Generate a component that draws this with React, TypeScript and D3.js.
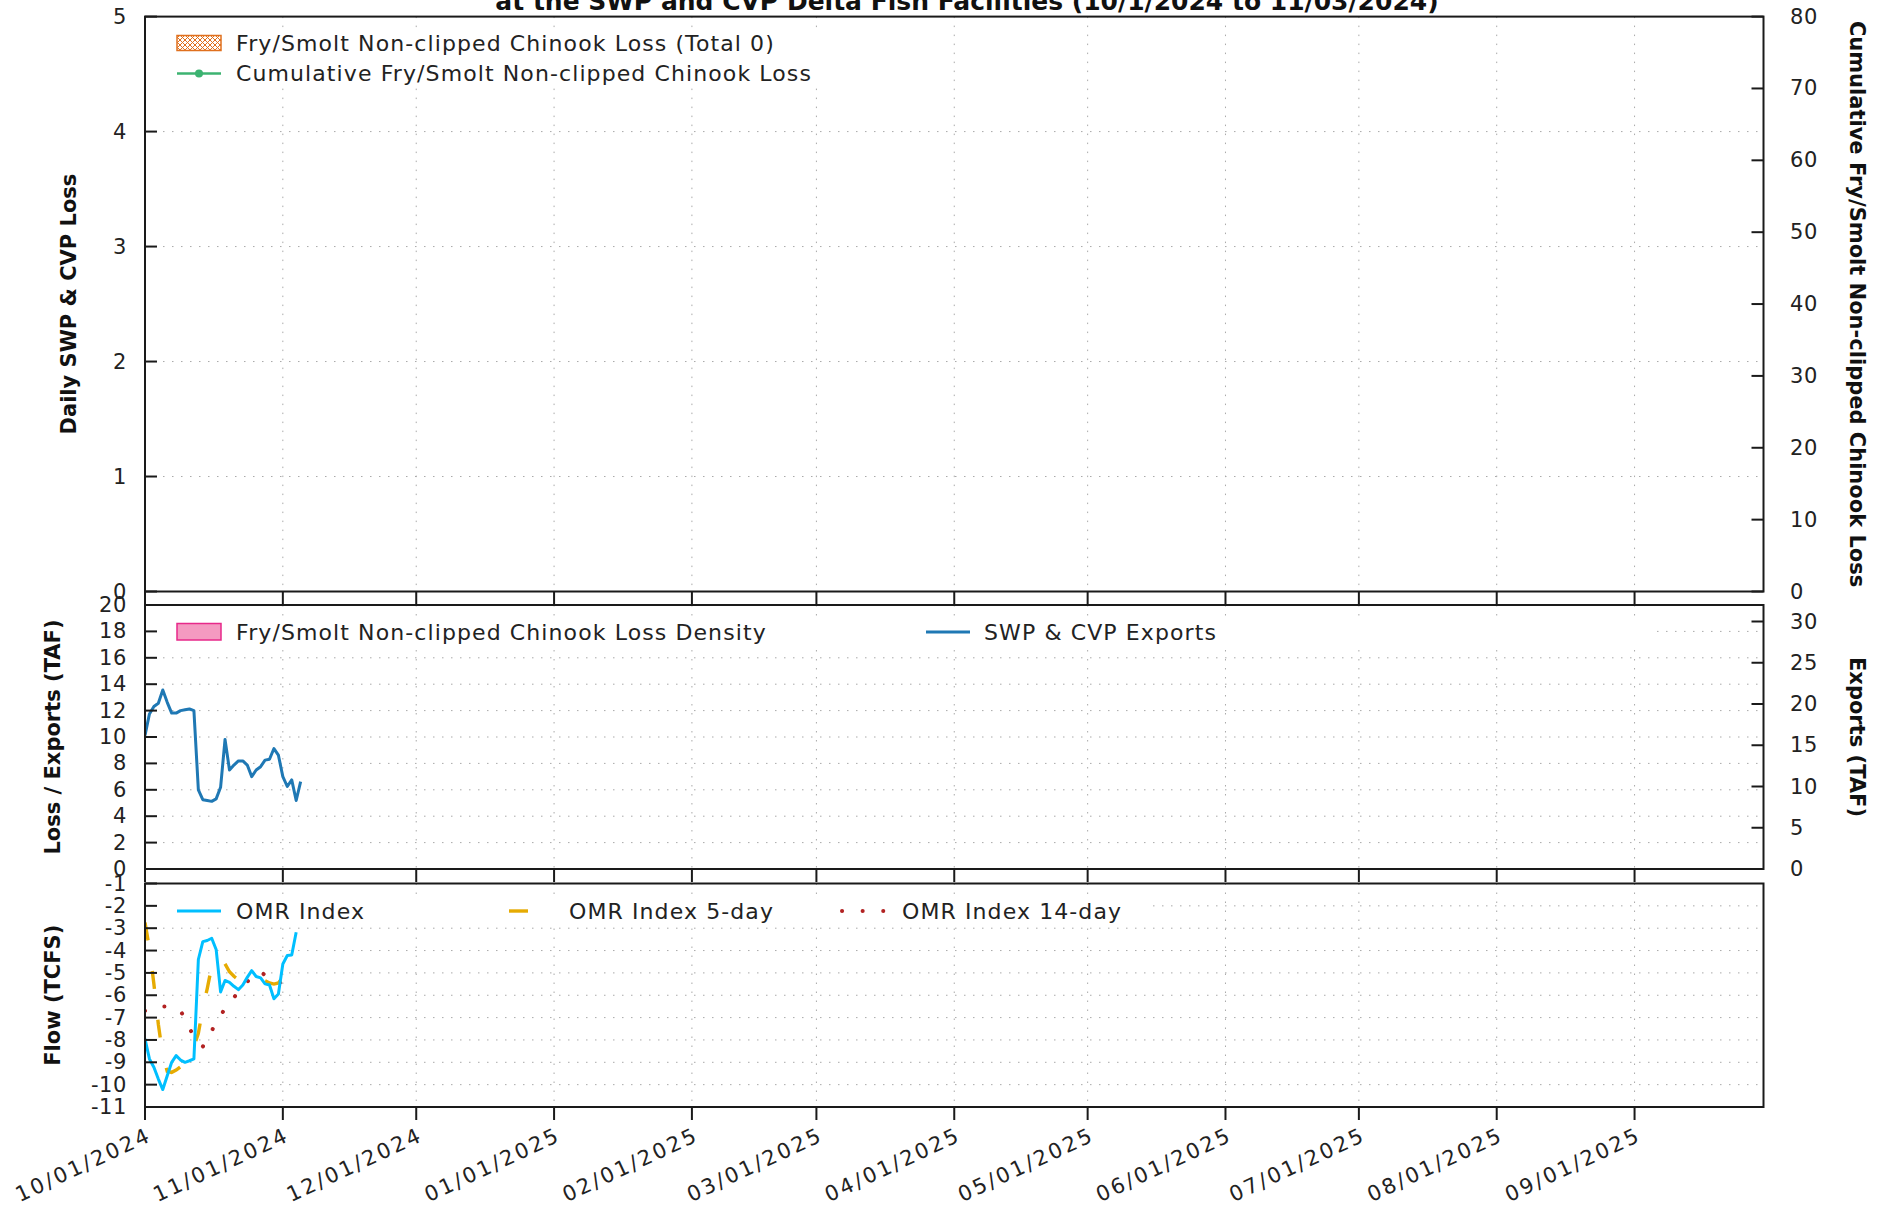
import React from 'react';
import * as d3 from 'd3';

// ---------- data ----------
const monthTickDates = ['2024-10-01','2024-11-01','2024-12-01','2025-01-01','2025-02-01','2025-03-01','2025-04-01','2025-05-01','2025-06-01','2025-07-01','2025-08-01','2025-09-01'];
const monthTickLabels = ['10/01/2024','11/01/2024','12/01/2024','01/01/2025','02/01/2025','03/01/2025','04/01/2025','05/01/2025','06/01/2025','07/01/2025','08/01/2025','09/01/2025'];

const exportDates = ['2024-10-01','2024-10-02','2024-10-03','2024-10-04','2024-10-05','2024-10-06','2024-10-07','2024-10-08','2024-10-09','2024-10-10','2024-10-11','2024-10-12','2024-10-13','2024-10-14','2024-10-15','2024-10-16','2024-10-17','2024-10-18','2024-10-19','2024-10-20','2024-10-21','2024-10-22','2024-10-23','2024-10-24','2024-10-25','2024-10-26','2024-10-27','2024-10-28','2024-10-29','2024-10-30','2024-10-31','2024-11-01','2024-11-02','2024-11-03','2024-11-04','2024-11-05'];
const exportsTAF = [16.2, 18.8, 19.7, 20.1, 21.7, 20.2, 18.9, 18.9, 19.2, 19.3, 19.4, 19.2, 9.6, 8.4, 8.3, 8.2, 8.5, 9.9, 15.7, 12.0, 12.6, 13.1, 13.1, 12.6, 11.2, 12.0, 12.4, 13.2, 13.3, 14.6, 13.8, 11.2, 10.0, 10.8, 8.3, 10.6];

const omrDates = exportDates.slice(0, 35);
const omrIndex = [-7.95, -8.85, -9.22, -9.75, -10.22, -9.6, -9.0, -8.7, -8.9, -9.0, -8.93, -8.85, -4.4, -3.6, -3.55, -3.45, -3.95, -5.85, -5.34, -5.42, -5.6, -5.75, -5.54, -5.2, -4.9, -5.16, -5.22, -5.49, -5.54, -6.16, -5.94, -4.6, -4.22, -4.2, -3.18];
const omr5Day = [-2.75, -3.9, -5.5, -7.3, -8.7, -9.4, -9.45, -9.35, -9.2, -9.0, -8.75, -8.3, -7.7, -6.6, -5.7, -4.7, -4.35, -4.3, -4.6, -4.95, -5.15, -5.3, -5.4, -5.35, -5.3, -5.25, -5.3, -5.35, -5.45, -5.5, -5.45, -5.2, -5.0, -4.8, -4.55];
const omr14Day = [-6.7, -6.65, -6.6, -6.55, -6.5, -6.5, -6.55, -6.6, -6.7, -7.05, -7.5, -7.8, -8.1, -8.3, -7.95, -7.6, -7.2, -6.9, -6.6, -6.35, -6.1, -5.85, -5.6, -5.4, -5.2, -5.0, -4.95, -5.1, -5.3, -5.45, -5.45, -5.4, -5.35, -5.25, -5.2];

const lossTicks = [0, 1, 2, 3, 4, 5];
const cumLossTicks = [0, 10, 20, 30, 40, 50, 60, 70, 80];
const lossExportTicks = [0, 2, 4, 6, 8, 10, 12, 14, 16, 18, 20];
const exportTicks = [0, 5, 10, 15, 20, 25, 30];
const flowTicks = [-1, -2, -3, -4, -5, -6, -7, -8, -9, -10, -11];

// ---------- layout ----------
const W = 1887, H = 1207;
const L = 145, R = 1763.5;
const P1 = { top: 16.6, bottom: 591.5 };
const P2 = { top: 605, bottom: 869 };
const P3 = { top: 883.5, bottom: 1107 };
const FONT = '"DejaVu Sans", Verdana, sans-serif';
const GRID = '#a9a9a9';
const AXIS = '#1a1a1a';

const parse = d3.utcParse('%Y-%m-%d');
const x = d3.scaleUtc().domain([parse('2024-10-01')!, parse('2025-09-30')!]).range([L, R]);
const y1 = d3.scaleLinear().domain([0, 5]).range([P1.bottom, P1.top]);
const y1r = d3.scaleLinear().domain([0, 80]).range([P1.bottom, P1.top]);
const y2 = d3.scaleLinear().domain([0, 20]).range([P2.bottom, P2.top]);
const y2r = d3.scaleLinear().domain([0, 32]).range([P2.bottom, P2.top]);
const y3 = d3.scaleLinear().domain([-11, -1]).range([P3.bottom, P3.top]);

type Pt = [Date, number];
const zip = (ds: string[], vs: number[]): Pt[] => vs.map((v, i) => [parse(ds[i])!, v]);

function Panel({ p, yl, lt, yr, rt, legendBox, children, labels }: any) {
  const months = monthTickDates.map(d => x(parse(d)!));
  return (
    <g>
      {lt.filter((t: number) => yl(t) > p.top + 1 && yl(t) < p.bottom - 1).map((t: number) => (
        <line key={'h' + t} x1={L} x2={R} y1={yl(t)} y2={yl(t)} stroke={GRID} strokeWidth={1} strokeDasharray="1.5,7.5" />
      ))}
      {months.filter(m => m > L + 1).map((m, i) => (
        <line key={'v' + i} x1={m} x2={m} y1={p.top} y2={p.bottom} stroke={GRID} strokeWidth={1} strokeDasharray="1.5,7.5" />
      ))}
      {legendBox && <rect x={legendBox[0]} y={legendBox[1]} width={legendBox[2]} height={legendBox[3]} fill="#fff" />}
      {children}
      <rect x={L} y={p.top} width={R - L} height={p.bottom - p.top} fill="none" stroke={AXIS} strokeWidth={2} />
      {lt.map((t: number) => (
        <g key={'lt' + t}>
          <line x1={L} x2={L + 12} y1={yl(t)} y2={yl(t)} stroke={AXIS} strokeWidth={2} />
          <text x={127} y={yl(t)} textAnchor="end" dominantBaseline="central" fontFamily={FONT} fontSize={21} fill="#222" style={{ letterSpacing: '0.6px' }}>{t}</text>
        </g>
      ))}
      {yr && rt.map((t: number) => (
        <g key={'rt' + t}>
          <line x1={R - 12} x2={R} y1={yr(t)} y2={yr(t)} stroke={AXIS} strokeWidth={2} />
          <text x={1790} y={yr(t)} textAnchor="start" dominantBaseline="central" fontFamily={FONT} fontSize={21} fill="#222" style={{ letterSpacing: '0.6px' }}>{t}</text>
        </g>
      ))}
      {months.map((m, i) => (
        <line key={'xt' + i} x1={m} x2={m} y1={p.bottom} y2={p.bottom + 13} stroke={AXIS} strokeWidth={2} />
      ))}
      {labels && months.map((m, i) => (
        <text key={'xl' + i} transform={`translate(${m + 8},${p.bottom + 33}) rotate(-25)`} textAnchor="end" fontFamily={FONT} fontSize={21} fill="#222" style={{ letterSpacing: '2.6px' }}>{monthTickLabels[i]}</text>
      ))}
    </g>
  );
}

const legendText = (xp: number, yp: number, s: string) => (
  <text x={xp} y={yp} dominantBaseline="central" fontFamily={FONT} fontSize={22} fill="#222" style={{ letterSpacing: '1.1px' }}>{s}</text>
);

export default function App() {
  const exportsLine = d3.line<Pt>().x(d => x(d[0])).y(d => y2r(d[1]));
  const flowLine = d3.line<Pt>().x(d => x(d[0])).y(d => y3(d[1]));
  const exp = zip(exportDates, exportsTAF);
  const omr = zip(omrDates, omrIndex);
  const o5 = zip(omrDates, omr5Day);
  const o14 = zip(omrDates, omr14Day);

  return (
    <svg width={W} height={H} style={{ position: 'absolute', left: 0, top: 0, background: '#fff' }} xmlns="http://www.w3.org/2000/svg">
      <defs>
        <pattern id="hatch" width="5" height="5" patternUnits="userSpaceOnUse">
          <rect width="5" height="5" fill="#fff" />
          <path d="M0,0 L5,5 M5,0 L0,5" stroke="#e0701e" strokeWidth="1" />
        </pattern>
        <clipPath id="clip3"><rect x={L} y={P3.top} width={R - L} height={P3.bottom - P3.top} /></clipPath>
        <clipPath id="clip2"><rect x={L} y={P2.top} width={R - L} height={P2.bottom - P2.top} /></clipPath>
      </defs>
      <rect width={W} height={H} fill="#fff" />

      <text x={967} y={10} textAnchor="middle" fontFamily={FONT} fontSize={25} fontWeight="bold" fill="#111">at the SWP and CVP Delta Fish Facilities (10/1/2024 to 11/03/2024)</text>

      <Panel p={P1} yl={y1} lt={lossTicks} yr={y1r} rt={cumLossTicks} legendBox={[150, 30, 690, 58]}>
        <rect x={177} y={35.5} width={44} height={15} fill="url(#hatch)" stroke="#e0701e" strokeWidth={1.5} />
        {legendText(236, 43, 'Fry/Smolt Non-clipped Chinook Loss (Total 0)')}
        <line x1={177} x2={221} y1={73.4} y2={73.4} stroke="#3cb371" strokeWidth={2.5} />
        <circle cx={199} cy={73.4} r={4} fill="#3cb371" />
        {legendText(236, 73.4, 'Cumulative Fry/Smolt Non-clipped Chinook Loss')}
      </Panel>

      <Panel p={P2} yl={y2} lt={lossExportTicks} yr={y2r} rt={exportTicks} legendBox={[150, 619, 1505, 27]}>
        <rect x={177} y={623.5} width={44} height={16.5} fill="#f49ac1" stroke="#e7298a" strokeWidth={1.5} />
        {legendText(236, 632, 'Fry/Smolt Non-clipped Chinook Loss Density')}
        <line x1={926} x2={970} y1={632} y2={632} stroke="#1f78b4" strokeWidth={3} />
        {legendText(984, 632, 'SWP & CVP Exports')}
        <path d={exportsLine(exp)!} fill="none" stroke="#1f78b4" strokeWidth={3} strokeLinejoin="round" clipPath="url(#clip2)" />
      </Panel>

      <Panel p={P3} yl={y3} lt={flowTicks} legendBox={[150, 898, 1000, 27]} labels>
        <line x1={177} x2={221} y1={911} y2={911} stroke="#00bfff" strokeWidth={3} />
        {legendText(236, 911, 'OMR Index')}
        <line x1={509} x2={553} y1={911} y2={911} stroke="#e6ab02" strokeWidth={3.4} strokeDasharray="19,30" />
        {legendText(569, 911, 'OMR Index 5-day')}
        <line x1={842} x2={886} y1={911} y2={911} stroke="#b22222" strokeWidth={4} strokeDasharray="0.1,20.5" strokeLinecap="round" />
        {legendText(902, 911, 'OMR Index 14-day')}
        <g clipPath="url(#clip3)">
          <path d={flowLine(o14)!} fill="none" stroke="#b22222" strokeWidth={4} strokeDasharray="0.1,19.8" strokeLinecap="round" />
          <path d={flowLine(o5)!} fill="none" stroke="#e6ab02" strokeWidth={3.4} strokeDasharray="18,31" />
          <path d={flowLine(omr)!} fill="none" stroke="#00bfff" strokeWidth={3} strokeLinejoin="round" />
        </g>
      </Panel>

      <text transform={`translate(69,${(P1.top + P1.bottom) / 2}) rotate(-90)`} textAnchor="middle" dominantBaseline="central" fontFamily={FONT} fontSize={21} fontWeight="bold" fill="#111">Daily SWP &amp; CVP Loss</text>
      <text transform={`translate(53,${(P2.top + P2.bottom) / 2}) rotate(-90)`} textAnchor="middle" dominantBaseline="central" fontFamily={FONT} fontSize={21} fontWeight="bold" fill="#111">Loss / Exports (TAF)</text>
      <text transform={`translate(53,${(P3.top + P3.bottom) / 2}) rotate(-90)`} textAnchor="middle" dominantBaseline="central" fontFamily={FONT} fontSize={21} fontWeight="bold" fill="#111">Flow (TCFS)</text>
      <text transform={`translate(1857,${(P1.top + P1.bottom) / 2}) rotate(90)`} textAnchor="middle" dominantBaseline="central" fontFamily={FONT} fontSize={21} fontWeight="bold" fill="#111">Cumulative Fry/Smolt Non-clipped Chinook Loss</text>
      <text transform={`translate(1857,${(P2.top + P2.bottom) / 2}) rotate(90)`} textAnchor="middle" dominantBaseline="central" fontFamily={FONT} fontSize={21} fontWeight="bold" fill="#111">Exports (TAF)</text>
    </svg>
  );
}
